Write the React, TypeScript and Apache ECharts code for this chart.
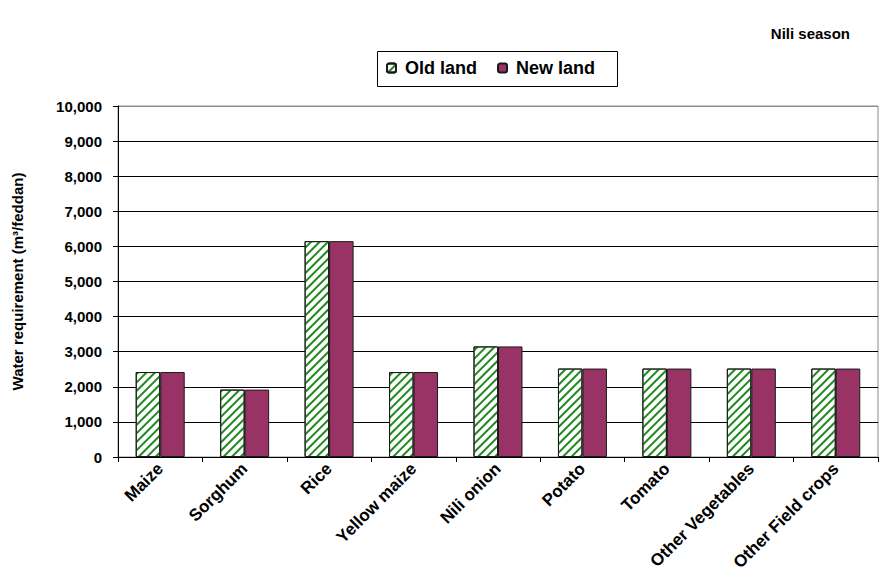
import React, { useEffect, useRef } from "react";
import * as echarts from "echarts";

const categories = [
  "Maize",
  "Sorghum",
  "Rice",
  "Yellow maize",
  "Nili onion",
  "Potato",
  "Tomato",
  "Other Vegetables",
  "Other Field crops",
];
const oldLand = [2420, 1920, 6150, 2420, 3150, 2520, 2520, 2520, 2520];
const newLand = [2420, 1920, 6150, 2420, 3150, 2520, 2520, 2520, 2520];
const seriesNames = ["Old land", "New land"];
const titleText = "Nili season";
const yAxisName = "Water requirement (m³/feddan)";

const FONT = "'Liberation Sans', Arial, sans-serif";

export default function App() {
  const ref = useRef<HTMLDivElement>(null);
  useEffect(() => {
    document.body.style.margin = "0";
    if (!ref.current) return;
    const chart = echarts.init(ref.current, undefined, { renderer: "svg" });
    const gridColors = Array.from({ length: 11 }, (_, i) => (i === 10 ? "#8c8c8c" : "#000000"));
    chart.setOption({
      animation: false,
      textStyle: { fontFamily: FONT },
      title: {
        text: titleText,
        right: 25,
        top: 21,
        textStyle: { fontFamily: FONT, fontSize: 15, fontWeight: "bold", color: "#000" },
      },
      graphic: [
        {
          type: "rect",
          shape: { x: 377.5, y: 51.5, width: 240, height: 35 },
          style: { fill: "none", stroke: "#000", lineWidth: 1 },
          z: 0,
        },
      ],
      legend: {
        data: seriesNames,
        left: 386,
        top: 59,
        itemWidth: 9,
        itemHeight: 9,
        itemGap: 20,
        padding: 0,
        textStyle: { fontFamily: FONT, fontSize: 18, fontWeight: "bold", color: "#000", padding: [0, 0, 0, 4] },
      },
      grid: {
        left: 118,
        right: 2,
        top: 106,
        bottom: 130,
        show: true,
        borderColor: "#8c8c8c",
        borderWidth: 1,
      },
      xAxis: {
        type: "category",
        data: categories,
        axisLine: { lineStyle: { color: "#000", width: 1 } },
        axisTick: { show: true, length: 5, lineStyle: { color: "#000" } },
        axisLabel: {
          rotate: 45,
          interval: 0,
          margin: 9,
          fontFamily: FONT,
          fontSize: 17,
          fontWeight: "bold",
          color: "#000",
        },
      },
      yAxis: {
        type: "value",
        min: 0,
        max: 10000,
        interval: 1000,
        name: yAxisName,
        nameLocation: "middle",
        nameGap: 93,
        nameTextStyle: { fontFamily: FONT, fontSize: 15, fontWeight: "bold", color: "#000" },
        axisLine: { show: true, lineStyle: { color: "#000", width: 1 } },
        axisTick: { show: true, length: 5, lineStyle: { color: "#000" } },
        axisLabel: {
          margin: 16,
          fontFamily: FONT,
          fontSize: 15,
          fontWeight: "bold",
          color: "#000",
          formatter: (v: number) => v.toLocaleString("en-US"),
        },
        splitLine: { show: true, lineStyle: { color: gridColors, width: 1 } },
      },
      series: [
        {
          name: seriesNames[0],
          type: "bar",
          data: oldLand,
          barGap: "0%",
          barCategoryGap: "42%",
          itemStyle: {
            color: "#ffffff",
            borderColor: "#1a1a1a",
            borderWidth: 1,
            decal: {
              symbol: "rect",
              color: "#1e8a1e",
              dashArrayX: [1, 0],
              dashArrayY: [2, 4],
              rotation: -Math.PI / 4,
              symbolSize: 1,
            },
          },
        },
        {
          name: seriesNames[1],
          type: "bar",
          data: newLand,
          itemStyle: { color: "#993366", borderColor: "#1a1a1a", borderWidth: 1 },
        },
      ],
    });
    return () => chart.dispose();
  }, []);
  return <div ref={ref} style={{ width: 880, height: 587 }} />;
}
